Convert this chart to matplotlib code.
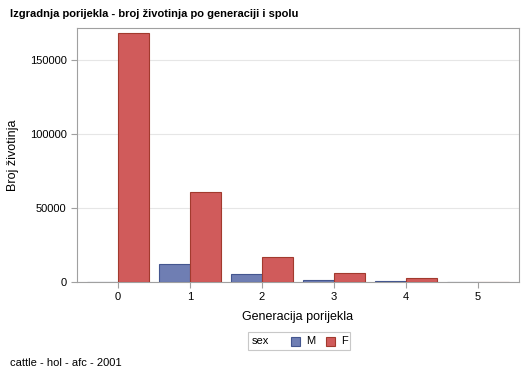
import numpy as np
import matplotlib.pyplot as plt
from matplotlib.patches import Rectangle

plt.rcParams['font.family'] = ['Liberation Sans', 'DejaVu Sans']

generations = [0, 1, 2, 3, 4, 5]
count_m = [60, 12200, 5400, 1300, 400, 120]
count_f = [168300, 60800, 16900, 6100, 3000, 250]
y_ticks = [0, 50000, 100000, 150000]
sex_labels = ['M', 'F']

fill_m, edge_m = '#6F7EB3', '#44568F'
fill_f, edge_f = '#D05B5B', '#A23A2E'
frame_col = '#A0A0A0'

W, H = 529, 378
fig = plt.figure(figsize=(W / 100, H / 100), dpi=100)
ax = fig.add_axes([77 / W, 1 - 282 / H, 442 / W, 254 / H])

x = np.array(generations)
w = 0.43
ax.bar(x - w / 2, count_m, width=w, color=fill_m, edgecolor=edge_m, linewidth=0.8, zorder=3)
ax.bar(x + w / 2, count_f, width=w, color=fill_f, edgecolor=edge_f, linewidth=0.8, zorder=3)

ax.set_xlim(-0.57, 5.57)
ax.set_ylim(0, 171600)
ax.set_xticks(generations)
ax.set_yticks(y_ticks)
ax.set_yticklabels([str(v) for v in y_ticks])
ax.yaxis.grid(True, color='#E6E6E6', linewidth=0.8, zorder=0)
ax.set_axisbelow(True)
for s in ax.spines.values():
    s.set_color(frame_col)
    s.set_linewidth(0.8)
ax.tick_params(axis='both', colors=frame_col, labelcolor='black', labelsize=8, length=4, width=0.8)

ax.set_xlabel('Generacija porijekla', fontsize=9, labelpad=6)
ax.set_ylabel('Broj životinja', fontsize=9, labelpad=8)

fig.text(10 / W, 1 - 14 / H, 'Izgradnja porijekla - broj životinja po generaciji i spolu',
         fontsize=8, fontweight='bold', va='center', ha='left')
fig.text(10 / W, 1 - 363 / H, 'cattle - hol - afc - 2001', fontsize=8, va='center', ha='left')

# legend drawn by hand, in pixel coords of the figure
def px(xp, yp):
    return xp / W, 1 - yp / H

fig.add_artist(Rectangle(px(248, 350), 102 / W, 18 / H, transform=fig.transFigure,
                         facecolor='white', edgecolor='#C8C8C8', linewidth=0.8))
fig.text(*px(252, 341), 'sex', fontsize=8, va='center', ha='left')
for i, (lab, fc, ec) in enumerate(zip(sex_labels, [fill_m, fill_f], [edge_m, edge_f])):
    x0 = 291 + i * 35
    fig.add_artist(Rectangle(px(x0, 346), 9 / W, 9 / H, transform=fig.transFigure,
                             facecolor=fc, edgecolor=ec, linewidth=0.8))
    fig.text(*px(x0 + 15, 341), lab, fontsize=8, va='center', ha='left')

fig.savefig('out.png', dpi=100)
